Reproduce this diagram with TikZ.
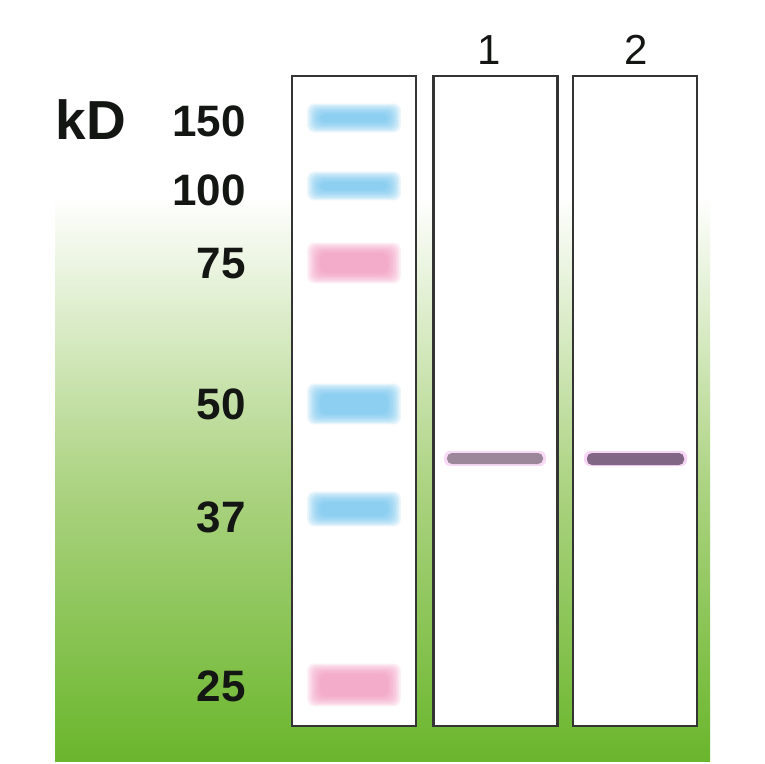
\documentclass[tikz,border=0pt]{standalone}
\usepackage{fontspec}
\setmainfont{Liberation Sans}
\definecolor{gbot}{RGB}{106,182,44}
\definecolor{gmid}{RGB}{174,212,132}
\definecolor{mblue}{RGB}{110,196,240}
\definecolor{mpink}{RGB}{244,150,190}
\definecolor{laneedge}{RGB}{52,52,52}
\definecolor{txt}{RGB}{20,22,20}
\definecolor{band1}{RGB}{156,134,154}
\definecolor{band2}{RGB}{130,102,134}
\definecolor{halo}{RGB}{236,150,230}
\newcommand\blurband[5]{%
  \foreach \k in {0,...,8}{%
    \fill[#5, opacity=0.15, rounded corners=7pt]
      ({#1-#3/2-\k*1.6},{#2-#4/2-\k*1.3}) rectangle ({#1+#3/2+\k*1.6},{#2+#4/2+\k*1.3});
  }}
\begin{document}
\begin{tikzpicture}[x=1pt,y=-1pt,
  lane/.style={draw=laneedge, line width=2.4pt, fill=white, minimum width=124pt, minimum height=650pt, inner sep=0pt},
  mw/.style={font=\bfseries\fontsize{44}{44}\selectfont, text=txt, anchor=east, inner sep=0pt},
  lanelabel/.style={font=\fontsize{42}{42}\selectfont, text=txt, inner sep=0pt}]
\useasboundingbox (0,0) rectangle (764,764);
\fill[white] (0,0) rectangle (764,764);
\shade[top color=white, bottom color=gbot, middle color=gmid] (55,196) rectangle (710,761);
% lanes
\node[lane] (laneM) at (354,401) {};
\node[lane] (laneA) at (495.5,401) {};
\node[lane] (laneB) at (635,401) {};
% lane labels
\node[lanelabel] (l1) at (489,50) {1};
\node[lanelabel] (l2) at (636,50) {2};
% unit and marker labels
\node[font=\bfseries\fontsize{55}{55}\selectfont, text=txt, inner sep=0pt] (kd) at (91,120) {kD};
\node[mw] (m150) at (246,121) {150};
\node[mw] (m100) at (246,190) {100};
\node[mw] (m75) at (246,264) {75};
\node[mw] (m50) at (246,404) {50};
\node[mw] (m37) at (246,517) {37};
\node[mw] (m25) at (246,686) {25};
% marker bands
\blurband{354}{118}{68}{8}{mblue}
\blurband{354}{186}{68}{8}{mblue}
\blurband{354}{263}{68}{20}{mpink}
\blurband{354}{404}{68}{20}{mblue}
\blurband{354}{509}{68}{14}{mblue}
\blurband{354}{685}{68}{22}{mpink}
% sample bands
\fill[halo, opacity=0.35, rounded corners=6pt] (444,451) rectangle (546,466);
\fill[band1, rounded corners=5pt] (447,453) rectangle (543,464);
\fill[halo, opacity=0.4, rounded corners=6pt] (584,451) rectangle (687,466);
\fill[band2, rounded corners=5pt] (587,453) rectangle (684,465);
\end{tikzpicture}
\end{document}
